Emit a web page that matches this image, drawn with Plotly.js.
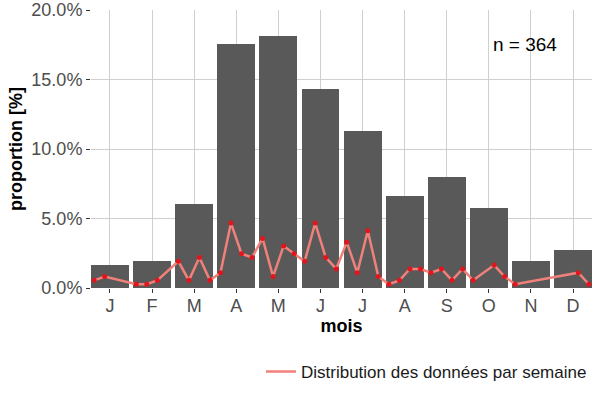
<!DOCTYPE html>
<html>
<head>
<meta charset="utf-8">
<script src="https://cdn.plot.ly/plotly-3.0.1.min.js"></script>
<style>
  body { margin: 0; background: #fff; }
  #graph { width: 600px; height: 400px; }
</style>
</head>
<body>
<div id="graph"></div>
<script>
/* ----- data ----- */
var mois = [1, 2, 3, 4, 5, 6, 7, 8, 9, 10, 11, 12];
var moisLabels = ['J', 'F', 'M', 'A', 'M', 'J', 'J', 'A', 'S', 'O', 'N', 'D'];
var propMois = [1.65, 1.92, 6.04, 17.58, 18.13, 14.29, 11.26, 6.59, 7.97, 5.77, 1.92, 2.75]; // %

var semaine = [1, 2, 5, 6, 7, 9, 10, 11, 12, 13, 14, 15, 16, 17, 18, 19, 20, 21, 22, 23,
               24, 25, 26, 27, 28, 29, 30, 31, 32, 33, 34, 35, 36, 37, 39, 40, 41, 47, 48];
var propSemaine = [0.55, 0.82, 0.27, 0.27, 0.55, 1.92, 0.55, 2.2, 0.55, 1.1, 4.67, 2.47, 2.2, 3.57, 0.82,
                   3.02, 2.47, 1.92, 4.67, 2.2, 1.37, 3.3, 1.1, 4.12, 0.82, 0.27, 0.55, 1.37, 1.37, 1.1,
                   1.37, 0.55, 1.37, 0.55, 1.65, 0.82, 0.27, 1.1, 0.27]; // %

var nTotal = 364;

// weeks placed on the month axis (4 weeks per month unit)
function semaineToMois(w) {
    return w / 4 + 0.375;
}

var xSemaine = semaine.map(semaineToMois);
var ySemaine = propSemaine.map(function (p) { return p / 100; });

var bars = {
    x: mois,
    y: propMois.map(function (p) { return p / 100; }),
    type: 'bar',
    width: 0.9,
    marker: {color: '#595959'},
    showlegend: false,
    hoverinfo: 'none'
};

// line carries the legend entry, points drawn on top without one
var weeklyLine = {
    x: xSemaine,
    y: ySemaine,
    type: 'scatter',
    mode: 'lines',
    line: {color: 'rgb(240,128,122)', width: 2.5},
    name: 'Distribution des données par semaine'
};

var weeklyPoints = {
    x: xSemaine,
    y: ySemaine,
    type: 'scatter',
    mode: 'markers',
    marker: {color: '#E3151C', size: 5},
    showlegend: false
};

var gridCol = '#CFCFCF';

var layout = {
    width: 600,
    height: 400,
    font: {family: '"Liberation Sans", Arial, sans-serif', color: '#000'},
    paper_bgcolor: '#fff',
    plot_bgcolor: '#fff',
    margin: {l: 91, r: 8, t: 10, b: 112},
    bargap: 0,
    xaxis: {
        range: [0.55, 12.45],
        tickvals: mois,
        ticktext: moisLabels,
        showgrid: true,
        gridcolor: gridCol,
        gridwidth: 1,
        zeroline: false,
        ticks: 'outside',
        ticklen: 4,
        tickcolor: '#333',
        ticklabelstandoff: -3,
        tickfont: {size: 18, color: '#4D4D4D'},
        title: {text: '<b>mois</b>', font: {size: 18, color: '#000'}, standoff: 4}
    },
    yaxis: {
        range: [0, 0.2],
        tickvals: [0, 0.05, 0.1, 0.15, 0.2],
        tickformat: '.1%',
        showgrid: true,
        gridcolor: gridCol,
        gridwidth: 1,
        zeroline: false,
        ticks: 'outside',
        ticklen: 4,
        tickcolor: '#333',
        tickfont: {size: 18, color: '#4D4D4D'},
        title: {text: '<b>proportion [%]</b>', font: {size: 18, color: '#000'}, standoff: 4}
    },
    showlegend: true,
    legend: {
        orientation: 'h',
        x: 1,
        xanchor: 'right',
        y: -0.302,
        yanchor: 'middle',
        font: {size: 17, color: '#1A1A1A'},
        bgcolor: 'rgba(0,0,0,0)'
    },
    annotations: [{
        x: 10.86,
        y: 0.1755,
        xref: 'x',
        yref: 'y',
        text: 'n = ' + nTotal,
        showarrow: false,
        font: {size: 19, color: '#000'}
    }]
};

Plotly.newPlot('graph', [bars, weeklyLine, weeklyPoints], layout, {staticPlot: true});
</script>
</body>
</html>
